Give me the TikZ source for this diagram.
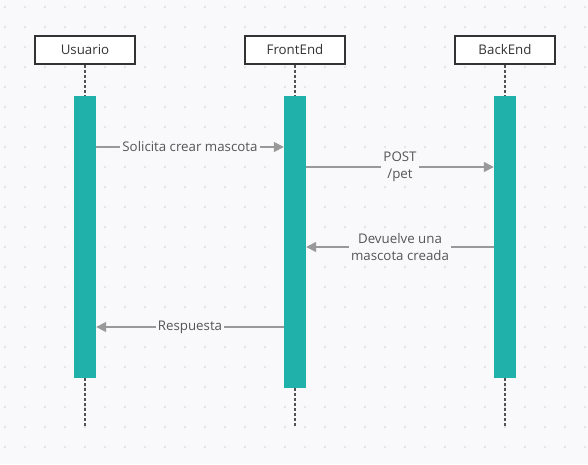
\documentclass[tikz,border=0pt]{standalone}
\usepackage{fontspec}
\setmainfont{Open Sans}
\usepackage{tikz}
\usetikzlibrary{arrows.meta,positioning}
\definecolor{bgcol}{HTML}{F9F9FB}
\definecolor{dotcol}{HTML}{DCDCE2}
\definecolor{barcol}{HTML}{20B2AA}
\definecolor{msgcol}{HTML}{999999}
\definecolor{txtcol}{HTML}{555555}
\definecolor{boxcol}{HTML}{333333}
\tikzset{
  actor/.style={draw=boxcol, line width=1.5pt, fill=white, minimum width=100pt, minimum height=28pt, inner sep=0pt, text=boxcol},
  bar/.style={fill=barcol, draw=none, minimum width=22pt, inner sep=0pt, anchor=north},
  life/.style={draw=boxcol!85, line width=1.6pt, dash pattern=on 3pt off 2pt},
  msg/.style={draw=msgcol, line width=1.5pt, -{Triangle[length=10pt, width=10pt]}},
  lbl/.style={fill=bgcol, text=txtcol, inner xsep=2pt, inner ysep=1pt, align=center}
}
\begin{document}
\begin{tikzpicture}[x = 1pt, y = -1pt, every node/.style={font = \fontsize{13.3}{17}\selectfont}]
\fill[bgcol] (0,0) rectangle (588,464);
\useasboundingbox (0,0) rectangle (588,464);
% dotted background
\foreach \i in {0,...,29}
  \foreach \j in {0,...,22}
    \fill[dotcol] (5+20*\i,7+20*\j) circle (1.1);
% participants
\node[actor] (usr) at (85,50) {Usuario};
\node[actor] (front) at (295,50) {FrontEnd};
\node[actor] (back) at (505,50) {BackEnd};
% activation bars
\node[bar, minimum height=282pt] (usrbar) at (85,96) {};
\node[bar, minimum height=292pt] (frontbar) at (295,96) {};
\node[bar, minimum height=282pt] (backbar) at (505,96) {};
% lifelines
\coordinate (usrend) at (85,427);
\coordinate (frontend) at (295,427);
\coordinate (backend) at (505,427);
\draw[life] (usr.south) -- (usrbar.north);
\draw[life] (usrbar.south) -- (usrend);
\draw[life] (front.south) -- (frontbar.north);
\draw[life] (frontbar.south) -- (frontend);
\draw[life] (back.south) -- (backbar.north);
\draw[life] (backbar.south) -- (backend);
% messages
\coordinate (m1) at (0,147);
\coordinate (m2) at (0,167);
\coordinate (m3) at (0,247);
\coordinate (m4) at (0,327);
\draw[msg] (usrbar.east |- m1) -- node[lbl] {Solicita crear mascota} (frontbar.west |- m1);
\draw[msg] (frontbar.east |- m2) -- node[lbl] {POST\\/pet} (backbar.west |- m2);
\draw[msg] (backbar.west |- m3) -- node[lbl] {Devuelve una\\mascota creada} (frontbar.east |- m3);
\draw[msg] (frontbar.west |- m4) -- node[lbl] {Respuesta} (usrbar.east |- m4);
\end{tikzpicture}
\end{document}
